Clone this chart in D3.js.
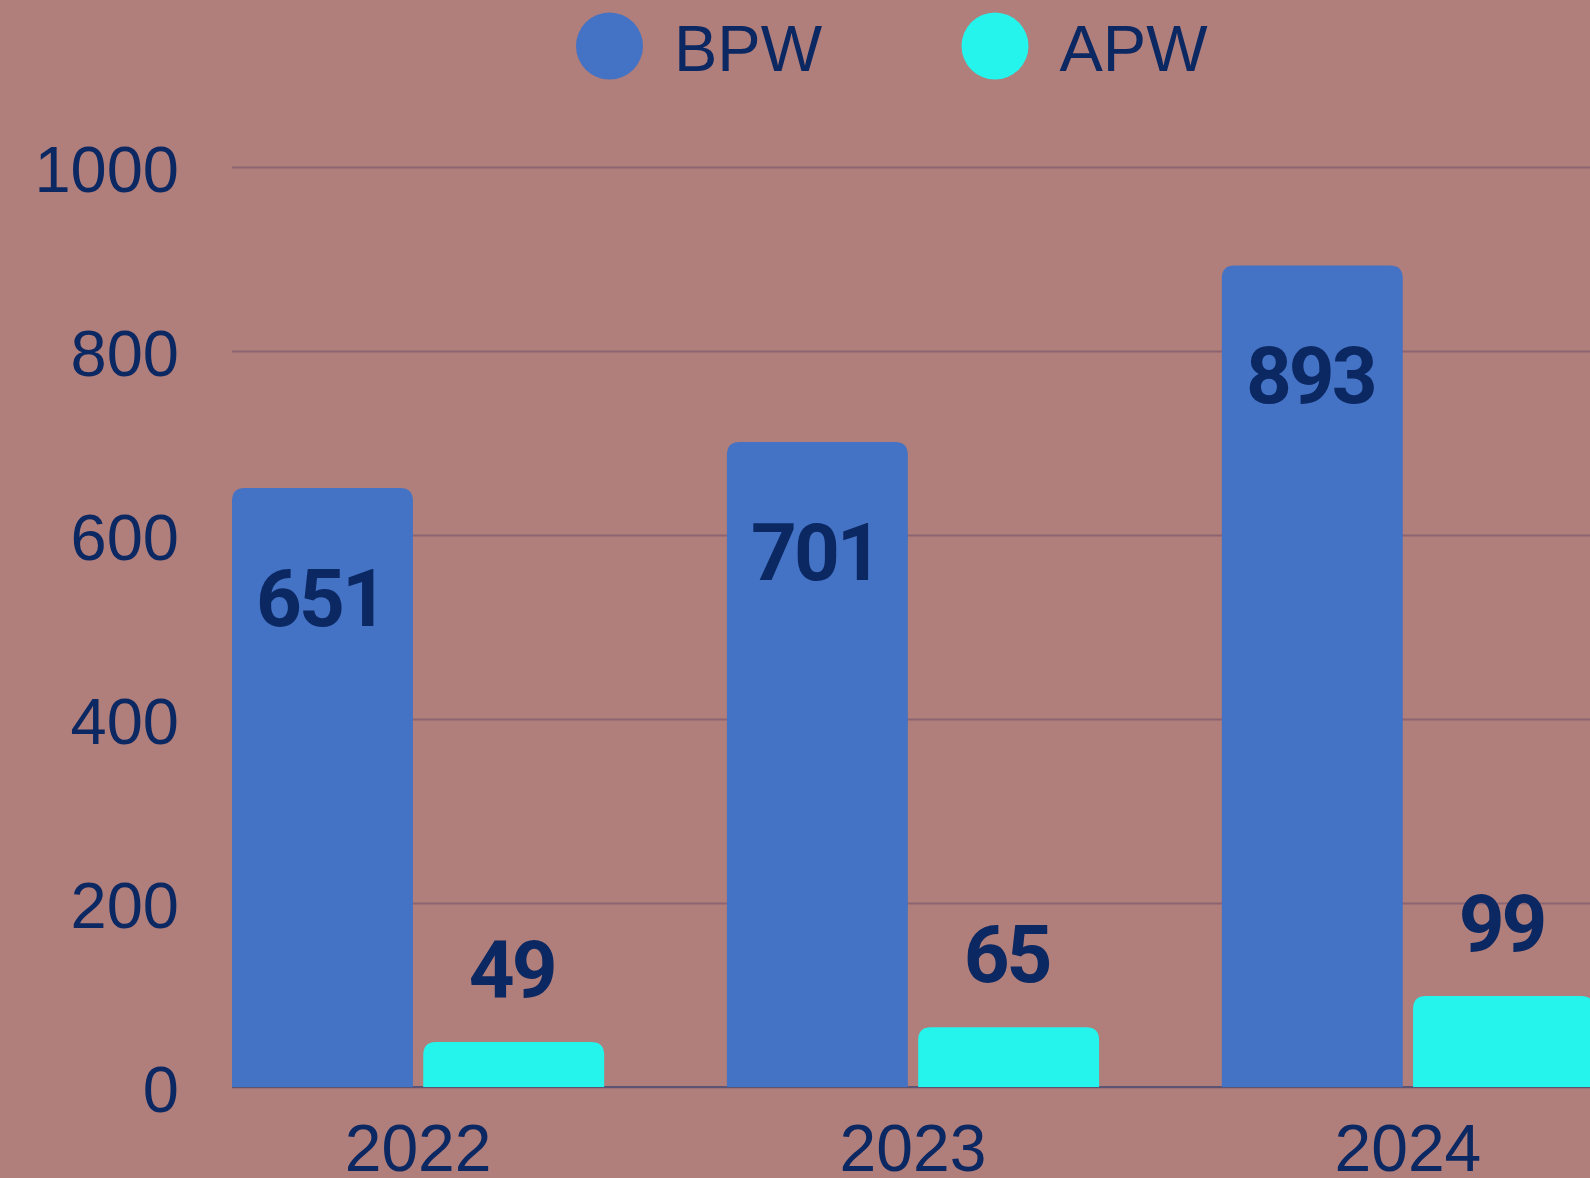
<!DOCTYPE html>
<html>
<head>
<meta charset="utf-8">
<script src="https://cdn.jsdelivr.net/npm/d3@7"></script>
<style>
  body { margin: 0; background: #b07e7b; overflow: hidden; }
  svg { display: block; }
</style>
</head>
<body>
<svg width="1590" height="1178"></svg>
<script>
// donnees
var years = ["2022", "2023", "2024"];
var series = ["BPW", "APW"];
var bpwValues = [651, 701, 893];
var apwValues = [49, 65, 99];
var yTicks = [0, 200, 400, 600, 800, 1000];

var colors = { BPW: "#4472c4", APW: "#25f4ed" };
var navy = "#0b2862";

var svg = d3.select("svg"),
    plotLeft = 232,
    plotRight = 1594,
    plotTop = 167,
    plotBottom = 1087;

var rows = years.map(function(y, i) {
    return { year: y, BPW: bpwValues[i], APW: apwValues[i] };
});

var x0 = d3.scaleBand()
    .domain(years)
    .range([plotLeft, plotRight])
    .paddingInner(0.248)
    .paddingOuter(0);

var x1 = d3.scaleBand()
    .domain(series)
    .range([0, x0.bandwidth()])
    .paddingInner(0.054);

var y = d3.scaleLinear()
    .domain([0, 1000])
    .range([plotBottom, plotTop]);

// grille + ticks de gauche
var yAxis = svg.append("g")
    .attr("transform", "translate(" + plotLeft + ",0)")
    .call(d3.axisLeft(y).tickValues(yTicks).tickFormat(d3.format("d"))
        .tickSizeInner(-(1590 - plotLeft)).tickSizeOuter(0).tickPadding(53));

yAxis.select(".domain").remove();
yAxis.selectAll("line")
    .attr("stroke", "#8c6472")
    .attr("stroke-width", 2);
yAxis.selectAll("text")
    .attr("fill", navy)
    .attr("dy", "0.38em")
    .style("font-family", "'Liberation Sans', Arial, sans-serif")
    .style("font-size", "65px");

// ligne de base
svg.append("line")
    .attr("x1", plotLeft).attr("x2", 1590)
    .attr("y1", y(0)).attr("y2", y(0))
    .attr("stroke", "#5d5373")
    .attr("stroke-width", 2);

// barre avec coins arrondis en haut seulement
function topRounded(x, yTop, w, h, r) {
    r = Math.min(r, h, w / 2);
    return "M" + x + "," + (yTop + h) +
        "V" + (yTop + r) +
        "Q" + x + "," + yTop + " " + (x + r) + "," + yTop +
        "H" + (x + w - r) +
        "Q" + (x + w) + "," + yTop + " " + (x + w) + "," + (yTop + r) +
        "V" + (yTop + h) + "Z";
}

var groups = svg.selectAll(".grp")
    .data(rows)
    .enter().append("g")
    .attr("class", "grp")
    .attr("transform", function(d) { return "translate(" + x0(d.year) + ",0)"; });

var bars = groups.selectAll(".bar")
    .data(function(d) { return series.map(function(s) { return { key: s, value: d[s] }; }); })
    .enter();

bars.append("path")
    .attr("class", "bar")
    .attr("fill", function(d) { return colors[d.key]; })
    .attr("d", function(d) {
        return topRounded(x1(d.key), y(d.value), x1.bandwidth(), y(0) - y(d.value), 13);
    });

// etiquettes de valeur
bars.append("text")
    .attr("x", function(d) { return x1(d.key) + x1.bandwidth() / 2 - 2; })
    .attr("y", function(d) { return d.key == "BPW" ? y(d.value) + 138 : y(d.value) - 45; })
    .attr("text-anchor", "middle")
    .attr("fill", navy)
    .style("font-family", "Roboto, sans-serif")
    .style("font-weight", "700")
    .style("font-size", "80px")
    .style("letter-spacing", "-3px")
    .text(function(d) { return d.value; });

// axe du bas
var xAxis = svg.append("g")
    .attr("transform", "translate(0," + plotBottom + ")")
    .call(d3.axisBottom(x0).tickSize(0).tickPadding(37));
xAxis.select(".domain").remove();
xAxis.selectAll("text")
    .attr("fill", navy)
    .style("font-family", "'Liberation Sans', Arial, sans-serif")
    .style("font-size", "66px");

// legende
var legend = svg.selectAll(".leg")
    .data(series)
    .enter().append("g")
    .attr("class", "leg")
    .attr("transform", function(d, i) { return "translate(" + (609.5 + i * 385.5) + ",46)"; });

legend.append("circle")
    .attr("r", 33.5)
    .attr("fill", function(d) { return colors[d]; });

legend.append("text")
    .attr("x", 64.5)
    .attr("y", 25)
    .attr("fill", navy)
    .style("font-family", "'Liberation Sans', Arial, sans-serif")
    .style("font-size", "65px")
    .text(function(d) { return d; });
</script>
</body>
</html>
